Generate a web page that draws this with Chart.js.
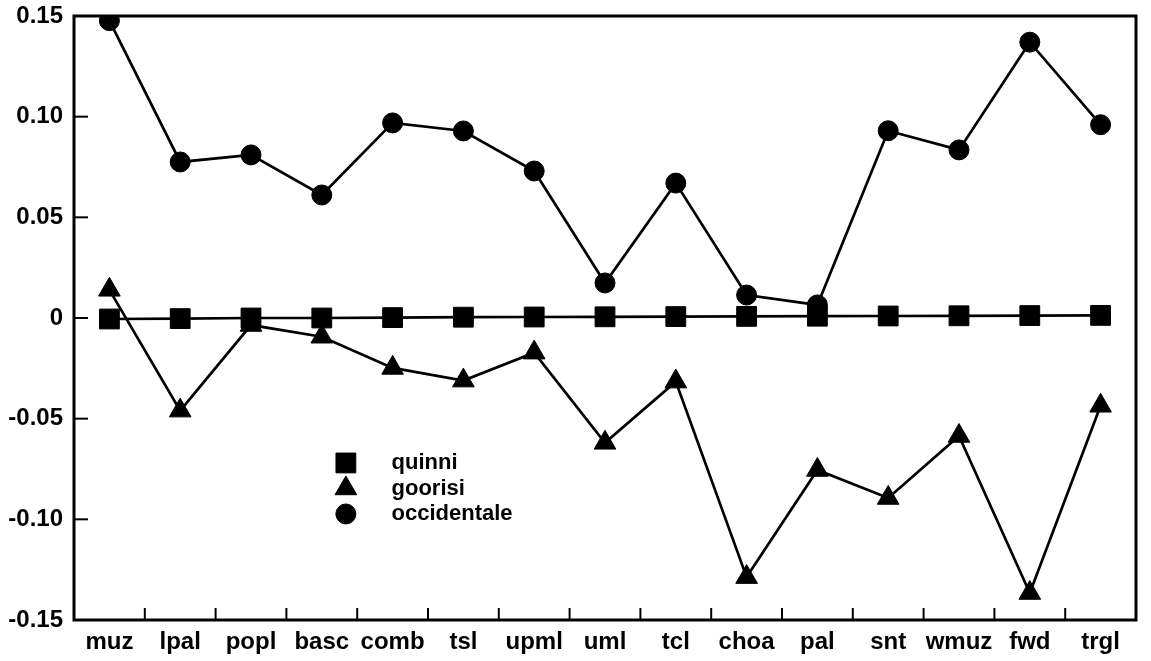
<!DOCTYPE html>
<html>
<head>
<meta charset="utf-8">
<script src="https://cdn.jsdelivr.net/npm/chart.js@4.4.1/dist/chart.umd.min.js"></script>
<style>
  body { margin: 0; background: #fff; }
  canvas { display: block; }
</style>
</head>
<body>
<canvas id="chart" width="1151" height="661"></canvas>
<script>
const categories = ["muz", "lpal", "popl", "basc", "comb", "tsl", "upml", "uml", "tcl", "choa", "pal", "snt", "wmuz", "fwd", "trgl"];

const quinni = [-0.0005, -0.0003, 0, 0, 0.0002, 0.0004, 0.0005, 0.0006, 0.0007, 0.0008, 0.0009, 0.001, 0.0011, 0.0012, 0.0013];
const goorisi = [0.014, -0.046, -0.0035, -0.0093, -0.0248, -0.0311, -0.0172, -0.062, -0.0316, -0.1287, -0.0755, -0.0894, -0.0586, -0.1366, -0.0436];
const occidentale = [0.1477, 0.0775, 0.081, 0.0611, 0.0969, 0.0929, 0.073, 0.0174, 0.067, 0.0114, 0.0065, 0.093, 0.0835, 0.137, 0.096];

const yMin = -0.15;
const yMax = 0.15;
const yStep = 0.05;

const fontFamily = "'Liberation Sans', Arial, Helvetica, sans-serif";

// frame + inward tick marks, like the original plot
const framePlugin = {
  id: "frame",
  afterDatasetsDraw(chart) {
    const { ctx, chartArea: a, scales } = chart;
    ctx.save();
    ctx.strokeStyle = "#000";
    ctx.lineWidth = 2;
    // x ticks between categories
    const xs = scales.x;
    for (let i = 1; i < categories.length; i++) {
      const x = (xs.getPixelForValue(i - 1) + xs.getPixelForValue(i)) / 2;
      ctx.beginPath();
      ctx.moveTo(x, a.bottom);
      ctx.lineTo(x, a.bottom - 12);
      ctx.stroke();
    }
    // y ticks
    scales.y.ticks.forEach((t) => {
      const y = scales.y.getPixelForValue(t.value);
      ctx.beginPath();
      ctx.moveTo(a.left, y);
      ctx.lineTo(a.left + 14, y);
      ctx.stroke();
    });
    ctx.lineWidth = 3;
    ctx.strokeRect(a.left, a.top, a.right - a.left, a.bottom - a.top);
    ctx.restore();
  },
};

// legend drawn inside the plot area
const innerLegend = {
  id: "innerLegend",
  afterDatasetsDraw(chart) {
    const { ctx, chartArea: a } = chart;
    const mx = a.left + 0.256 * (a.right - a.left);
    const tx = a.left + 0.299 * (a.right - a.left);
    let y = a.top + 0.74 * (a.bottom - a.top);
    ctx.save();
    ctx.fillStyle = "#000";
    ctx.strokeStyle = "#000";
    ctx.font = "bold 22px " + fontFamily;
    ctx.textBaseline = "middle";
    chart.data.datasets.forEach((ds) => {
      Chart.helpers.drawPoint(ctx, {
        pointStyle: ds.pointStyle,
        radius: ds.pointRadius,
        rotation: 0,
        borderWidth: 1,
      }, mx, y);
      ctx.fillText(ds.label, tx, y);
      y += 25.5;
    });
    ctx.restore();
  },
};

function lineSet(label, data, style, radius) {
  return {
    label: label,
    data: data,
    borderColor: "#000",
    borderWidth: 2.7,
    backgroundColor: "#000",
    pointStyle: style,
    pointRadius: radius,
    pointBackgroundColor: "#000",
    pointBorderColor: "#000",
    pointBorderWidth: 1,
    tension: 0,
    fill: false,
  };
}

new Chart(document.getElementById("chart"), {
  type: "line",
  data: {
    labels: categories,
    datasets: [
      lineSet("quinni", quinni, "rect", 14),
      lineSet("goorisi", goorisi, "triangle", 12.5),
      lineSet("occidentale", occidentale, "circle", 10),
    ],
  },
  options: {
    responsive: false,
    animation: false,
    devicePixelRatio: 1,
    layout: { padding: { top: 16, right: 6, left: 0, bottom: 0 } },
    plugins: {
      legend: { display: false },
      tooltip: { enabled: false },
    },
    scales: {
      x: {
        offset: true,
        grid: { display: false, drawTicks: false },
        border: { display: false },
        ticks: {
          color: "#000",
          padding: 8,
          maxRotation: 0,
          autoSkip: false,
          font: { family: fontFamily, size: 24, weight: "bold" },
        },
        afterFit(scale) {
          scale.height = 41;
          scale.paddingLeft = 0;
          scale.paddingRight = 0;
        },
      },
      y: {
        min: yMin,
        max: yMax,
        grid: { display: false, drawTicks: false },
        border: { display: false },
        ticks: {
          stepSize: yStep,
          color: "#000",
          padding: 11,
          font: { family: fontFamily, size: 24, weight: "bold" },
          callback: (v) => (Math.abs(v) < 1e-9 ? "0" : Number(v).toFixed(2)),
        },
        afterFit(scale) {
          scale.width = 74;
          scale.paddingTop = 0;
          scale.paddingBottom = 0;
        },
      },
    },
  },
  plugins: [framePlugin, innerLegend],
});
</script>
</body>
</html>
